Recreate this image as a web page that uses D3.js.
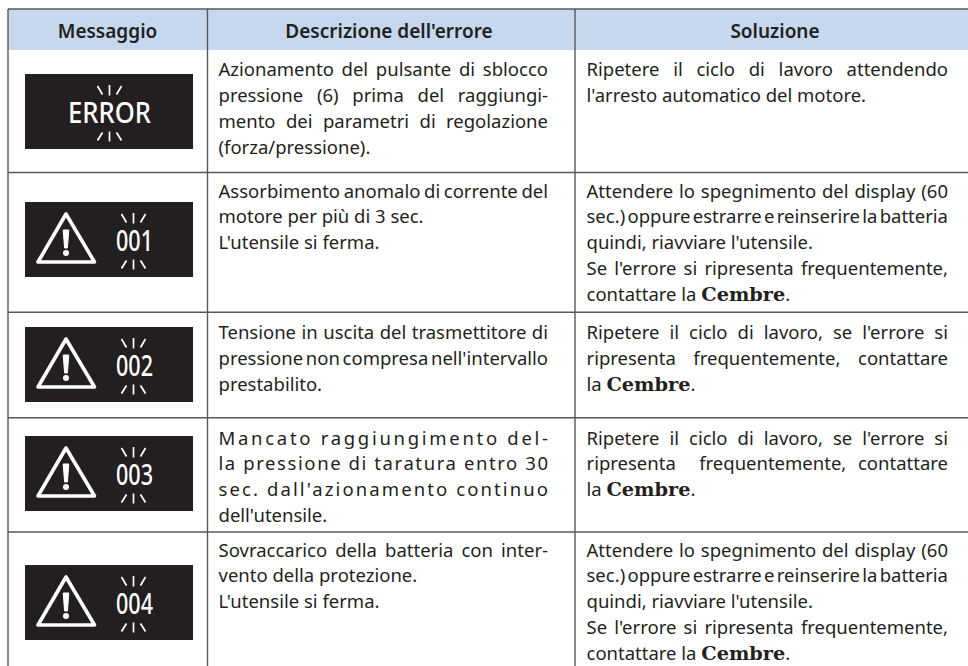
<!DOCTYPE html>
<html><head><meta charset="utf-8">
<script src="https://cdn.jsdelivr.net/npm/d3@7"></script>
<style>html,body{margin:0;padding:0;background:#fff;overflow:hidden}svg{display:block}</style>
</head><body><svg id="c" width="968" height="666"></svg>
<script>
const headers = ["Messaggio","Descrizione dell'errore","Soluzione"];
const messages = ["ERROR","001","002","003","004"];
// line text; leading "|" marks a justified line, "^" a letter-spaced justified line; *Cembre* is the brand
const descriptions = [
 ["|Azionamento del pulsante di sblocco","|pressione (6) prima del raggiungi-","|mento dei parametri di regolazione","(forza/pressione)."],
 ["|Assorbimento anomalo di corrente del","motore per più di 3 sec.","L'utensile si ferma."],
 ["|Tensione in uscita del trasmettitore di","|pressione non compresa nell'intervallo","prestabilito."],
 ["^Mancato raggiungimento del-","^la pressione di taratura entro 30","^sec. dall'azionamento continuo","dell'utensile."],
 ["|Sovraccarico della batteria con inter-","vento della protezione.","L'utensile si ferma."]
];
const solutions = [
 ["|Ripetere il ciclo di lavoro attendendo","l'arresto automatico del motore."],
 ["|Attendere lo spegnimento del display (60","|sec.) oppure estrarre e reinserire la batteria","quindi, riavviare l'utensile.","|Se l'errore si ripresenta frequentemente,","contattare la *Cembre*."],
 ["|Ripetere il ciclo di lavoro, se l'errore si","|ripresenta frequentemente, contattare","la *Cembre*."],
 ["|Ripetere il ciclo di lavoro, se l'errore si","|ripresenta\u00a0 frequentemente, contattare","la *Cembre*."],
 ["|Attendere lo spegnimento del display (60","|sec.) oppure estrarre e reinserire la batteria","quindi, riavviare l'utensile.","|Se l'errore si ripresenta frequentemente,","contattare la *Cembre*."]
];

const INK="#231f20", RULE="#58595b", HEAD="#c6d7ee";
const FONT="'Noto Sans', sans-serif";
const svg=d3.select("#c");
const colEdge=d3.scaleOrdinal([0,1,2,3],[8,207.5,575,968]);
const rowEdge=d3.scaleOrdinal(d3.range(7),[9,50,172.5,312.3,417.7,532,666]);
const firstBase=d3.scaleOrdinal(d3.range(5),[76.2,197.5,338.8,444.5,556.5]);
const lineStep=25.9;

svg.append("rect").attr("x",colEdge(0)).attr("y",rowEdge(0)).attr("width",colEdge(3)-colEdge(0)).attr("height",rowEdge(1)-rowEdge(0)).attr("fill",HEAD);

const headX=[107.5,389,775];
svg.selectAll("text.h").data(headers).join("text").attr("class","h")
 .attr("x",(d,i)=>headX[i]).attr("y",rowEdge(0)+28.5)
 .attr("text-anchor","middle").attr("font-family",FONT).attr("font-weight",600).attr("font-size",19).attr("fill",INK).text(d=>d);

// rules
const hr=[0,2,3,4,5];
svg.selectAll("line.hr").data(hr).join("line").attr("class","hr")
 .attr("x1",colEdge(0)).attr("x2",colEdge(3)).attr("y1",rowEdge).attr("y2",rowEdge).attr("stroke",RULE).attr("stroke-width",1.4);
svg.selectAll("line.vr").data([0,1,2]).join("line").attr("class","vr")
 .attr("x1",colEdge).attr("x2",colEdge).attr("y1",rowEdge(0)).attr("y2",rowEdge(6)).attr("stroke",RULE).attr("stroke-width",1.4);

function cell(lines,row,left,right){
 const base=firstBase(row);
 lines.forEach((raw,k)=>{
  const mode=raw[0]==="|"?"j":raw[0]==="^"?"l":"n";
  const s=mode==="n"?raw:raw.slice(1);
  const t=svg.append("text").attr("x",left).attr("y",base+k*lineStep)
    .attr("font-family",FONT).attr("font-size",18.5).attr("fill",INK);
  s.split("*").forEach((part,i)=>{
    if(!part)return;
    const ts=t.append("tspan").text(part);
    if(i%2) ts.attr("font-family","'DejaVu Serif',serif").attr("font-weight",700).attr("font-size",19).attr("textLength",84).attr("lengthAdjust","spacingAndGlyphs");
  });
  const w=t.node().getComputedTextLength(), target=right-left;
  if(mode==="j"){ const gaps=s.split(/[ \u00a0]/).length-1; t.attr("word-spacing",(target-w)/gaps); }
  if(mode==="l"){ t.attr("letter-spacing",(target-w)/(s.length-1)); }
 });
}
descriptions.forEach((l,i)=>cell(l,i,218.5,548));
solutions.forEach((l,i)=>cell(l,i,586.5,948));

// badges
const bx=25,bw=168,bh=75,btop=[74,202,327,436,565];
function rays(g,cx,y0,y1,up){
  [-1,0,1].forEach(s=>{
   g.append("line").attr("x1",cx+s*(up?12:7)).attr("x2",cx+s*(up?7:12))
    .attr("y1",y0+(s?1:0)).attr("y2",y1-(s?1:0)).attr("stroke","#fff").attr("stroke-width",1.7);
  });
}
messages.forEach((m,i)=>{
 const g=svg.append("g").attr("transform",`translate(${bx},${btop[i]})`);
 g.append("rect").attr("width",bw).attr("height",bh).attr("fill",INK);
 const isErr=m==="ERROR", cx=isErr?84.5:108.5, tw=isErr?83:37;
 g.append("text").attr("x",cx+(isErr?0:1)).attr("y",48.5).attr("text-anchor","middle").attr("font-family",FONT).attr("font-weight",500)
  .attr("font-size",28).attr("fill","#fff").attr("textLength",tw).attr("lengthAdjust","spacingAndGlyphs").text(m);
 rays(g,cx,11,21.5,true); rays(g,cx,57.5,67.5,false);
 if(!isErr){
  g.append("path").attr("d",d3.line()([[41,12],[13,60],[69.5,60]])+"Z").attr("fill","none").attr("stroke","#fff").attr("stroke-width",3.6).attr("stroke-linejoin","round");
  g.append("path").attr("d",d3.line()([[38.2,28],[43.8,28],[42.4,46],[39.6,46]])+"Z").attr("fill","#fff").attr("stroke","#fff").attr("stroke-width",1).attr("stroke-linejoin","round");
  g.append("circle").attr("cx",41).attr("cy",51).attr("r",3).attr("fill","#fff");
 }
});
</script></body></html>
